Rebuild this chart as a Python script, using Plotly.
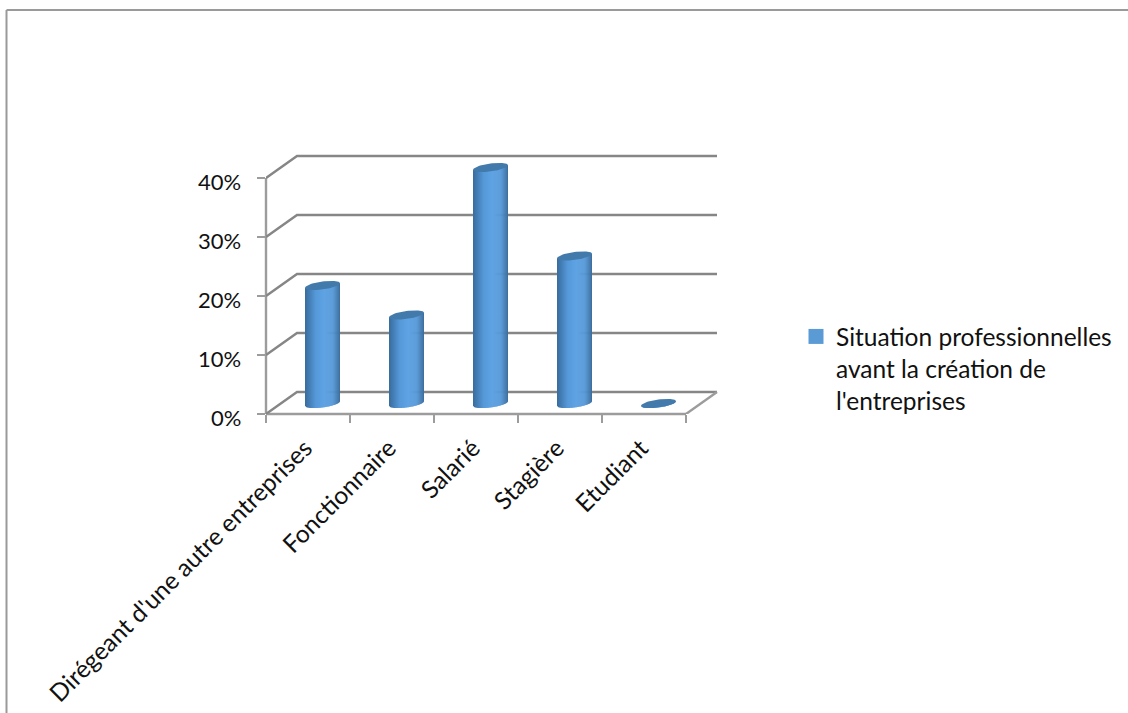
import math
import plotly.graph_objects as go

# Chart data
categories = ["Dirégeant d'une autre entreprises", "Fonctionnaire", "Salarié", "Stagière", "Etudiant"]
percent_values = [20, 15, 40, 25, 0]
percent_ticks = [0, 10, 20, 30, 40]
series_name = "Situation professionnelles<br>avant la création de<br>l'entreprises"

# Page geometry in pixels
W, H = 1128, 713
LEFT, BOTTOM_Y = 266, 414
CAT_PX = 84.0
PCT_PX = 5.9
DEPTH_PX = (31.0, 22.0)
PAD_PX = 6.0
RIGHT_PX = LEFT + 5 * CAT_PX + DEPTH_PX[0] + PAD_PX
TOP_Y = BOTTOM_Y - 40 * PCT_PX - DEPTH_PX[1] - PAD_PX

# Depth of the box, in axis units
DX = DEPTH_PX[0] / CAT_PX
DY = DEPTH_PX[1] / PCT_PX
N = len(categories)
X_RANGE = N + DX + PAD_PX / CAT_PX
Y_RANGE = percent_ticks[-1] + DY + PAD_PX / PCT_PX

GRID = "#868686"
FLOOR = "#9c9c9c"
TEXT = "#111111"
FONT = "Lato"

# Cylinder proportions, in axis units
HALF_W = 17.5 / CAT_PX
RY = 4.0 / PCT_PX
TILT = 0.13 * CAT_PX / PCT_PX
CYL_DX = 14.5 / CAT_PX
CYL_DY = 10.5 / PCT_PX
STRIPS = 36
SHADE_STOPS = [(0.0, (58, 108, 155)), (0.1, (66, 122, 176)), (0.3, (86, 152, 216)),
               (0.55, (96, 164, 228)), (0.8, (86, 152, 214)), (0.95, (66, 120, 172)),
               (1.0, (60, 108, 152))]


def shade(t):
    for (a, ca), (b, cb) in zip(SHADE_STOPS, SHADE_STOPS[1:]):
        if t <= b:
            k = (t - a) / (b - a)
            return "rgb(%d,%d,%d)" % tuple(round(p + (q - p) * k) for p, q in zip(ca, cb))
    return "rgb(60,108,152)"


def lower_arc(u):
    # Offset of the front edge of an ellipse at position u in [-1, 1]
    return -RY * math.sqrt(max(0.0, 1 - u * u))


def tilt(u):
    return TILT * u * HALF_W


fig = go.Figure()


def line(xs, ys, color=GRID, width=2.4):
    fig.add_trace(go.Scatter(x=xs, y=ys, mode="lines", line=dict(color=color, width=width),
                             showlegend=False, hoverinfo="skip", cliponaxis=False))


# Back wall and side wall gridlines
for v in percent_ticks:
    line([0, DX, N + DX], [v, v + DY, v + DY])
# Right edge of the floor
line([N, N + DX], [0, DY], FLOOR)

# Front floor edge and vertical axis line, on paper coordinates so they stay full width
for x0, y0, x1, y1 in [(0, 0, N, 0), (0, 0, 0, percent_ticks[-1])]:
    fig.add_shape(type="line", xref="paper", yref="paper", layer="below",
                  x0=x0 / X_RANGE, x1=x1 / X_RANGE, y0=y0 / Y_RANGE, y1=y1 / Y_RANGE,
                  line=dict(color=FLOOR, width=2.4))

# Cylinder bodies, one vertical strip per shade
for s in range(STRIPS):
    u0 = -1 + 2 * s / STRIPS
    u1 = min(1.0, -1 + 2 * (s + 1.6) / STRIPS)
    xs, ys = [], []
    for i, v in enumerate(percent_values):
        c = i + 0.5 + CYL_DX
        base = CYL_DY
        us = [u0 + (u1 - u0) * k / 4 for k in range(5)]
        bottom = [(c + u * HALF_W, base + tilt(u) + lower_arc(u)) for u in us]
        top = [(c + u * HALF_W, base + v + tilt(u)) for u in reversed(us)]
        poly = bottom + top + bottom[:1]
        xs += [p[0] for p in poly] + [None]
        ys += [p[1] for p in poly] + [None]
    fig.add_trace(go.Scatter(x=xs, y=ys, mode="lines", fill="toself", line=dict(width=0),
                             fillcolor=shade((s + 0.5) / STRIPS), showlegend=False,
                             hoverinfo="skip", cliponaxis=False))

# Cylinder top faces
cap_x, cap_y = [], []
for i, v in enumerate(percent_values):
    c = i + 0.5 + CYL_DX
    for k in range(61):
        a = 2 * math.pi * k / 60
        u = math.cos(a)
        cap_x.append(c + u * HALF_W)
        cap_y.append(CYL_DY + v + tilt(u) + RY * math.sin(a))
    cap_x.append(None)
    cap_y.append(None)
fig.add_trace(go.Scatter(x=cap_x, y=cap_y, mode="lines", fill="toself", line=dict(width=0),
                         fillcolor="#417aab", showlegend=False, hoverinfo="skip", cliponaxis=False))

# Legend entry
fig.add_trace(go.Scatter(x=[None], y=[None], mode="markers", name=series_name,
                         marker=dict(symbol="square", size=15, color="#5b9bd5")))

# Chart frame, open on the right and at the bottom
for x0, y0, x1, y1 in [(6.5, 10, W, 10), (6.5, 10, 6.5, H)]:
    fig.add_shape(type="line", xref="paper", yref="paper", layer="below",
                  x0=(x0 - LEFT) / (RIGHT_PX - LEFT), x1=(x1 - LEFT) / (RIGHT_PX - LEFT),
                  y0=(BOTTOM_Y - y0) / (BOTTOM_Y - TOP_Y), y1=(BOTTOM_Y - y1) / (BOTTOM_Y - TOP_Y),
                  line=dict(color="#9a9a9a", width=2))

# Value labels of the vertical axis, set just below their ticks
for v in percent_ticks:
    fig.add_annotation(x=0, y=v, xref="x", yref="y", text="%d%%" % v, showarrow=False,
                       xanchor="right", yanchor="middle", xshift=-23, yshift=-3,
                       font=dict(family=FONT, size=22, color=TEXT))

fig.update_layout(
    width=W, height=H, autosize=False,
    margin=dict(l=LEFT, r=W - RIGHT_PX, t=TOP_Y, b=H - BOTTOM_Y, autoexpand=False),
    paper_bgcolor="white", plot_bgcolor="rgba(0,0,0,0)",
    font=dict(family=FONT, color=TEXT, size=24),
    xaxis=dict(range=[0, X_RANGE], tickmode="array",
               tickvals=[i + 0.5 for i in range(N)],
               ticktext=categories, tickangle=-45, ticks="", showgrid=False, zeroline=False,
               automargin=False, showline=False, tickfont=dict(family=FONT, size=24.5, color=TEXT),
               ticklabelstandoff=14, ticklabelshift=-3,
               minor=dict(ticks="outside", ticklen=8, tickwidth=1.5, tickcolor=FLOOR,
                          tickmode="array", tickvals=list(range(N + 1)), showgrid=False)),
    yaxis=dict(range=[0, Y_RANGE], tickmode="array",
               tickvals=percent_ticks,
               automargin=False, showticklabels=False, ticks="outside", ticklen=8,
               tickwidth=1.5, tickcolor=FLOOR, showgrid=False, zeroline=False, showline=False),
    legend=dict(x=(796 - LEFT) / (RIGHT_PX - LEFT), y=(BOTTOM_Y - 314) / (BOTTOM_Y - TOP_Y),
                xanchor="left", yanchor="top", bgcolor="rgba(0,0,0,0)", valign="top",
                font=dict(family=FONT, size=24.5, color=TEXT), itemwidth=30, tracegroupgap=0),
    showlegend=True,
)

fig.write_html("out.html", config=dict(displayModeBar=False))
